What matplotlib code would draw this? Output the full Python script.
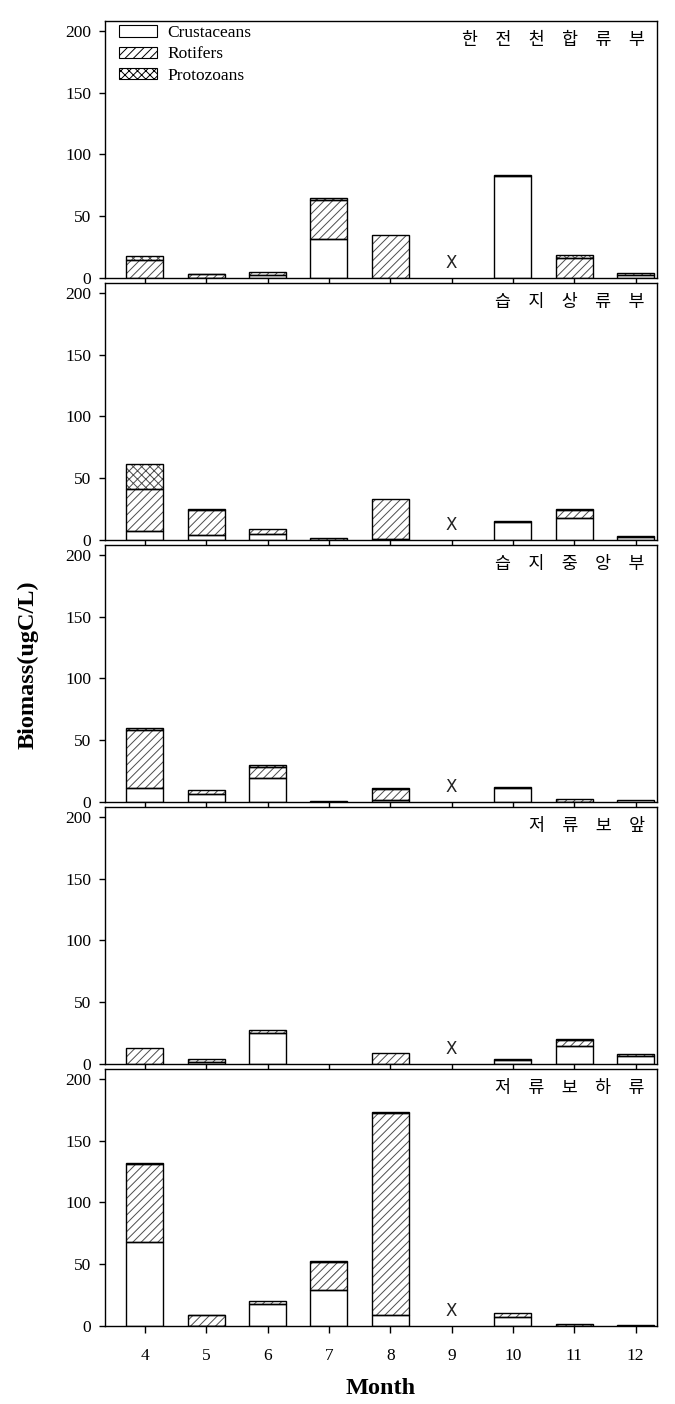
import matplotlib.pyplot as plt
import matplotlib.patches as mpatches
import numpy as np

plt.rcParams['font.family'] = ['Liberation Serif', 'DejaVu Serif']
plt.rcParams['hatch.linewidth'] = 0.7

months = [4, 5, 6, 7, 8, 9, 10, 11, 12]
sites = ['한전천합류부', '습지상류부', '습지중앙부', '저류보앞', '저류보하류']
missing_month = 9

# biomass (ugC/L) per site, months 4..12 (9 = not sampled)
crustaceans = [
    [0.0, 0.4, 2.2, 31.3, 0.0, 0, 82.5, 0.0, 2.2],
    [7.1, 3.8, 4.6, 0.3, 1.1, 0, 14.7, 18.2, 2.8],
    [11.2, 6.6, 19.5, 0.8, 1.4, 0, 11.5, 0.3, 1.4],
    [0.0, 1.4, 24.9, 0.0, 0.0, 0, 3.3, 14.5, 6.3],
    [67.6, 0.3, 18.1, 28.8, 9.1, 0, 7.4, 0.2, 0.5],
]
rotifers = [
    [14.2, 2.6, 2.7, 31.7, 35.1, 0, 0.6, 16.3, 1.9],
    [34.2, 20.7, 4.4, 1.3, 32.3, 0, 0.5, 6.3, 0.5],
    [46.9, 3.0, 9.0, 0.0, 9.1, 0, 0.6, 1.9, 0.0],
    [13.2, 2.4, 2.8, 0.0, 8.8, 0, 0.5, 5.0, 1.6],
    [63.4, 8.3, 2.0, 23.1, 163.2, 0, 3.3, 1.4, 0.0],
]
protozoans = [
    [3.5, 0.3, 0.0, 1.6, 0.0, 0, 0.0, 2.2, 0.0],
    [20.4, 0.8, 0.0, 0.0, 0.0, 0, 0.0, 0.8, 0.0],
    [1.9, 0.0, 1.1, 0.0, 0.5, 0, 0.0, 0.0, 0.0],
    [0.0, 0.0, 0.0, 0.0, 0.0, 0, 0.0, 0.8, 0.0],
    [0.9, 0.5, 0.0, 0.8, 0.8, 0, 0.0, 0.0, 0.0],
]

fig = plt.figure(figsize=(6.75, 14.04), dpi=100)
W, H = 675, 1404
left, right = 105, 657
top0, ph, gap = 21, 257, 5
width = 0.6

for i, name in enumerate(sites):
    y_top = top0 + i * (ph + gap)
    ax = fig.add_axes([left / W, 1 - (y_top + ph) / H, (right - left) / W, ph / H])
    c = np.array(crustaceans[i])
    r = np.array(rotifers[i])
    p = np.array(protozoans[i])
    x = np.array(months)
    # fills (hatch in grey), then black outlines on top
    ax.bar(x, c, width, color='white', lw=0)
    ax.bar(x, r, width, bottom=c, color='white', hatch='////', edgecolor='0.3', lw=0)
    ax.bar(x, p, width, bottom=c + r, color='white', hatch='xxxx', edgecolor='0.3', lw=0)
    for vals, bot in [(c, 0 * c), (r, c), (p, c + r)]:
        keep = vals > 0
        ax.bar(x[keep], vals[keep], width, bottom=bot[keep],
               fill=False, edgecolor='black', lw=1.0)
    ax.text(missing_month, 12, 'X', ha='center', va='center', fontsize=12,
            family='DejaVu Sans', color='#222222')
    ax.text(0.978, 0.925, '\u3000'.join(name), transform=ax.transAxes, ha='right',
            va='center', fontsize=12.5, family=['Noto Sans CJK KR'])
    ax.set_xlim(3.35, 12.35)
    ax.set_ylim(0, 208)
    ax.set_yticks([0, 50, 100, 150, 200])
    ax.set_xticks(months)
    ax.tick_params(axis='both', direction='out', length=5, width=1, labelsize=12.5)
    ax.tick_params(axis='y', pad=6, length=4)
    if i < len(sites) - 1:
        ax.set_xticklabels([])
    else:
        ax.tick_params(axis='x', pad=11)
    for s in ax.spines.values():
        s.set_linewidth(1.0)
    if i == 0:
        handles = [
            mpatches.Patch(facecolor='white', edgecolor='black', lw=0.8),
            mpatches.Patch(facecolor='white', edgecolor='black', lw=0.8, hatch='////'),
            mpatches.Patch(facecolor='white', edgecolor='black', lw=0.8, hatch='xxxx'),
        ]
        ax.legend(handles, ['Crustaceans', 'Rotifers', 'Protozoans'], loc='upper left',
                  bbox_to_anchor=(0.025, 0.984), frameon=False, fontsize=12.5,
                  borderpad=0, borderaxespad=0,
                  handlelength=2.2, handleheight=0.6, labelspacing=0.3, handletextpad=0.6)

fig.text(28 / W, 1 - 665 / H, 'Biomass(ugC/L)', rotation=90, ha='center', va='center',
         fontsize=17.5, fontweight='bold')
fig.text((left + right) / 2 / W, 1 - 1389 / H, 'Month', ha='center', va='center',
         fontsize=17.5, fontweight='bold')

fig.savefig('out.png', dpi=100)
